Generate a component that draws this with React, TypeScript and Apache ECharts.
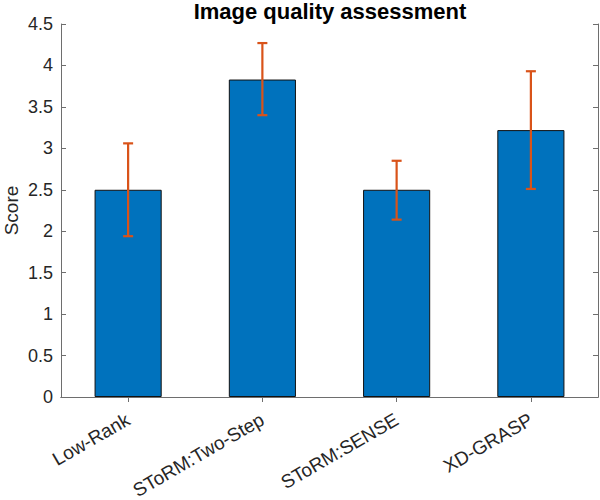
import React, { useEffect, useRef } from "react";
import * as echarts from "echarts";

const categories = ["Low-Rank", "SToRM:Two-Step", "SToRM:SENSE", "XD-GRASP"];
const scores = [2.5, 3.83, 2.5, 3.22];
const errLow = [1.94, 3.4, 2.14, 2.51];
const errHigh = [3.06, 4.27, 2.85, 3.93];
const yMin = 0;
const yMax = 4.5;
const yInterval = 0.5;

const FONT = "Liberation Sans, Arial, Helvetica, sans-serif";
const AXIS_COLOR = "#6e6e6e";
const TEXT_COLOR = "#262626";

export default function App() {
  const ref = useRef<HTMLDivElement>(null);
  useEffect(() => {
    if (!ref.current) return;
    const chart = echarts.init(ref.current, undefined, { renderer: "svg" });
    const errData = categories.map((_, i) => [i, errLow[i], errHigh[i]]);
    chart.setOption({
      animation: false,
      backgroundColor: "#ffffff",
      textStyle: { fontFamily: FONT },
      title: {
        text: "Image quality assessment",
        left: 330,
        top: 0,
        padding: 0,
        textAlign: "center",
        textStyle: { fontFamily: FONT, fontSize: 22, lineHeight: 22, fontWeight: "bold", color: "#000" },
      },
      grid: {
        left: 61,
        right: 2,
        top: 24,
        bottom: 103,
        containLabel: false,
        outerBoundsMode: "none",
      },
      xAxis: [
        {
          type: "category",
          data: categories,
          position: "bottom",
          axisLine: { show: true, lineStyle: { color: AXIS_COLOR, width: 1 } },
          axisTick: { show: true, inside: true, alignWithLabel: true, length: 5, lineStyle: { color: AXIS_COLOR } },
          axisLabel: { rotate: 30, fontSize: 19, color: TEXT_COLOR, fontFamily: FONT, margin: 21 },
          splitLine: { show: false },
        },
        {
          type: "category",
          data: categories,
          position: "top",
          axisLine: { show: true, lineStyle: { color: AXIS_COLOR, width: 1 } },
          axisTick: { show: true, inside: true, alignWithLabel: true, length: 5, lineStyle: { color: AXIS_COLOR } },
          axisLabel: { show: false },
          splitLine: { show: false },
        },
      ],
      yAxis: [
        {
          type: "value",
          min: yMin,
          max: yMax,
          interval: yInterval,
          position: "left",
          name: "Score",
          nameLocation: "middle",
          nameGap: 40,
          nameMoveOverlap: false,
          nameTextStyle: { fontSize: 19, color: TEXT_COLOR, fontFamily: FONT },
          axisLine: { show: true, lineStyle: { color: AXIS_COLOR, width: 1 } },
          axisTick: { show: true, inside: true, length: 5, lineStyle: { color: AXIS_COLOR } },
          axisLabel: { fontSize: 18, color: TEXT_COLOR, fontFamily: FONT, margin: 8 },
          splitLine: { show: false },
        },
        {
          type: "value",
          min: yMin,
          max: yMax,
          interval: yInterval,
          position: "right",
          axisLine: { show: true, lineStyle: { color: AXIS_COLOR, width: 1 } },
          axisTick: { show: true, inside: true, length: 5, lineStyle: { color: AXIS_COLOR } },
          axisLabel: { show: false },
          splitLine: { show: false },
        },
      ],
      series: [
        {
          type: "bar",
          data: scores,
          barWidth: "50%",
          itemStyle: { color: "#0072BD", borderColor: "#111111", borderWidth: 1 },
        },
        {
          type: "custom",
          data: errData,
          z: 10,
          renderItem: (params: any, api: any) => {
            const x = api.value(0);
            const lo = api.coord([x, api.value(1)]);
            const hi = api.coord([x, api.value(2)]);
            const hw = 5;
            const style = { stroke: "#D95319", lineWidth: 2.2 };
            return {
              type: "group",
              children: [
                { type: "line", shape: { x1: lo[0], y1: lo[1], x2: hi[0], y2: hi[1] }, style },
                { type: "line", shape: { x1: lo[0] - hw, y1: lo[1], x2: lo[0] + hw, y2: lo[1] }, style },
                { type: "line", shape: { x1: hi[0] - hw, y1: hi[1], x2: hi[0] + hw, y2: hi[1] }, style },
              ],
            };
          },
        },
      ],
    });
    return () => chart.dispose();
  }, []);
  return (
    <div
      ref={ref}
      style={{ position: "fixed", left: 0, top: 0, width: 600, height: 500 }}
    />
  );
}
